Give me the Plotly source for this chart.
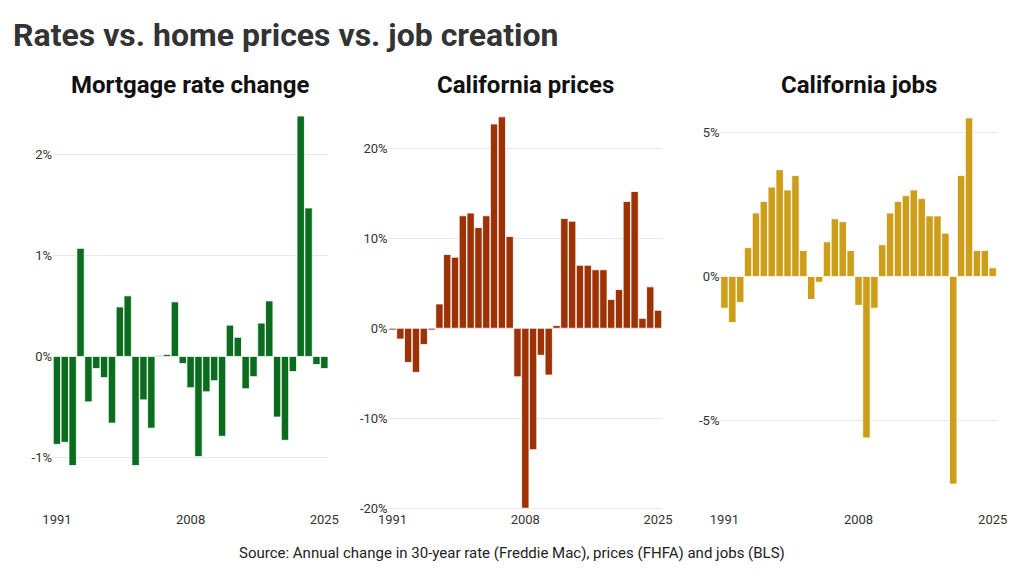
import plotly.graph_objects as go
from plotly.subplots import make_subplots

years = list(range(1991, 2026))
rate_change = [-0.87, -0.85, -1.08, 1.07, -0.45, -0.12, -0.21, -0.66, 0.49, 0.60,
               -1.08, -0.43, -0.71, 0.01, 0.02, 0.54, -0.07, -0.31, -0.99, -0.35,
               -0.24, -0.79, 0.31, 0.19, -0.32, -0.20, 0.33, 0.55, -0.60, -0.83,
               -0.15, 2.38, 1.47, -0.08, -0.12]
ca_prices = [-0.2, -1.2, -3.8, -4.9, -1.8, -0.2, 2.7, 8.2, 7.9, 12.5,
             12.8, 11.2, 12.5, 22.7, 23.5, 10.2, -5.4, -20.0, -13.5, -3.0,
             -5.2, 0.3, 12.2, 11.9, 7.0, 7.0, 6.5, 6.5, 3.2, 4.3,
             14.1, 15.2, 1.1, 4.6, 2.0]
ca_jobs = [-1.1, -1.6, -0.9, 1.0, 2.2, 2.6, 3.1, 3.7, 3.0, 3.5,
           0.9, -0.8, -0.2, 1.2, 2.0, 1.9, 0.9, -1.0, -5.6, -1.1,
           1.1, 2.2, 2.6, 2.8, 3.0, 2.7, 2.1, 2.1, 1.5, -7.2,
           3.5, 5.5, 0.9, 0.9, 0.3]
titles = ["Mortgage rate change", "California prices", "California jobs"]
colors = ["#0b6b1f", "#9c3206", "#cc9e1a"]

fig = make_subplots(rows=1, cols=3, horizontal_spacing=0.06)
series = [rate_change, ca_prices, ca_jobs]
ranges = [[-1.52, 2.39], [-20.2, 23.7], [-8.1, 5.6]]
tickvals = [[-1, 0, 1, 2], [-20, -10, 0, 10, 20], [-5, 0, 5]]
domains = [[-0.001, 0.287], [0.350, 0.635], [0.696, 0.984]]
for i, (vals, c) in enumerate(zip(series, colors)):
    fig.add_trace(go.Bar(x=years, y=vals, marker=dict(color=c, line=dict(color="white", width=0.8)),
                         showlegend=False), row=1, col=i + 1)
    ax = "" if i == 0 else str(i + 1)
    fig.update_layout(**{
        f"xaxis{ax}": dict(domain=[max(domains[i][0], 0), domains[i][1]], range=[1990.5, 2025.5], tickvals=[1991, 2008, 2025],
                           showgrid=False, zeroline=False, showline=False, ticks="",
                           tickfont=dict(family="Roboto", size=13, color="#333")),
        f"yaxis{ax}": dict(range=ranges[i], tickvals=tickvals[i],
                           ticktext=[f"{v}%" for v in tickvals[i]], showgrid=True,
                           gridcolor="#e8e8e8", zeroline=False, ticks="",
                           tickfont=dict(family="Roboto", size=13, color="#333")),
    })
    fig.add_annotation(text=f"<b>{titles[i]}</b>", x=sum(domains[i]) / 2, y=1.035,
                       xref="paper", yref="paper", xanchor="center", yanchor="bottom",
                       showarrow=False, font=dict(family="Roboto", size=24, color="#111"))

fig.add_annotation(text="<b>Rates vs. home prices vs. job creation</b>", x=-0.044, y=1.255,
                   xref="paper", yref="paper", xanchor="left", yanchor="top", showarrow=False,
                   font=dict(family="Roboto", size=32, color="#333"))
fig.add_annotation(text="Source: Annual change in 30-year rate (Freddie Mac), prices (FHFA) and jobs (BLS)",
                   x=0.479, y=-0.109, xref="paper", yref="paper", xanchor="center", yanchor="middle",
                   showarrow=False, font=dict(family="Roboto", size=15, color="#222"))
fig.update_layout(width=1024, height=576, margin=dict(l=45, r=20, t=107, b=74, autoexpand=False),
                  plot_bgcolor="white", paper_bgcolor="white", bargap=0.06)
fig.write_html("out.html")
